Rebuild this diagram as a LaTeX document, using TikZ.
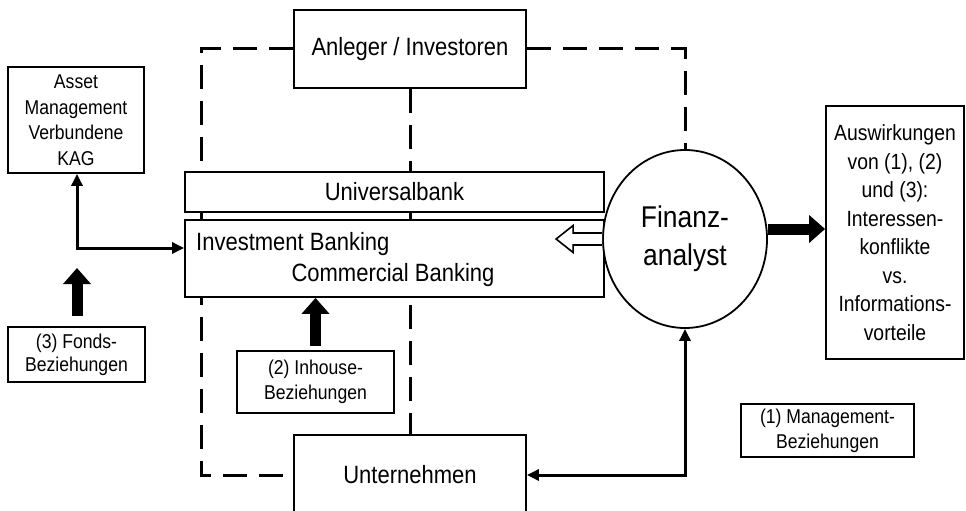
\documentclass[tikz,border=0pt]{standalone}
\usepackage{fontspec}
\setmainfont{Liberation Sans}[FakeStretch=0.88]
\usetikzlibrary{shapes.geometric,arrows.meta,backgrounds}
\tikzset{
  box/.style={draw,line width=1.8pt,fill=white,align=center,inner sep=0pt},
  gross/.style={font=\fontsize{25pt}{28pt}\selectfont},
  klein/.style={font=\fontsize{20pt}{25.5pt}\selectfont},
  strich/.style={line width=3pt,dash pattern=on 24pt off 12pt},
  pfeil/.style={line width=3pt,{Triangle[length=12pt,width=11pt]}-{Triangle[length=12pt,width=11pt]}},
  block/.style={line width=11pt,-{Triangle[length=16pt,width=27pt]}},
}

\begin{document}
\begin{tikzpicture}[x=1pt,y=-1pt]
\useasboundingbox (0,0) rectangle (966,511);
\node[box,gross,minimum width=232pt,minimum height=78pt] (anleger) at (410,49) {Anleger / Investoren};
\node[box,gross,minimum width=419pt,minimum height=40pt] (uni) at (394.5,192) {Universalbank};
\node[box,minimum width=419pt,minimum height=77pt] (bank) at (394.5,258.5) {};
\node[gross,anchor=west,inner sep=0pt] (ib) at (196,244) {Investment Banking};
\node[gross,inner sep=0pt] (cb) at (393,275) {Commercial Banking};
\node[box,ellipse,font=\fontsize{30pt}{38pt}\selectfont,minimum width=164pt,minimum height=178pt] (fa) at (685,239) {Finanz-\\analyst};
\node[box,font=\fontsize{22pt}{28.5pt}\selectfont,minimum width=138pt,minimum height=253pt] (wirk) at (895,232.5)
  {Auswirkungen\\von (1), (2)\\und (3):\\Interessen-\\konflikte\\vs.\\Informations-\\vorteile};
\node[box,gross,minimum width=232pt,minimum height=80pt] (unt) at (410,475) {Unternehmen};
\node[box,klein,minimum width=136pt,minimum height=106pt] (asset) at (76,120) {Asset\\Management\\Verbundene\\KAG};
\node[box,font=\fontsize{20pt}{23pt}\selectfont,minimum width=137pt,minimum height=55pt] (fonds) at (76.5,354.5) {(3) Fonds-\\Beziehungen};
\node[box,font=\fontsize{20pt}{25pt}\selectfont,minimum width=157pt,minimum height=62pt] (inhouse) at (315.5,382) {(2) Inhouse-\\Beziehungen};
\node[box,font=\fontsize{20pt}{25pt}\selectfont,minimum width=173pt,minimum height=53pt] (mgmt) at (827.5,430.5) {(1) Management-\\Beziehungen};
\coordinate (links) at (201,0);
\coordinate (knick) at (77,248);
\coordinate (fondsspitze) at (77,268);
\begin{scope}[on background layer]
\draw[strich] (anleger.west) -- (anleger.west -| links) -- (unt.west -| links) -- (unt.west);
\draw[strich] (anleger.east) -| (fa.north);
\draw[strich] (anleger.south) -- (unt.north);
\end{scope}
\draw[pfeil] (asset.south -| knick) -- (knick) -- (knick -| bank.west);
\draw[block,shorten <=10pt] (fonds.north -| knick) -- (fondsspitze);
\draw[block,shorten <=4pt] (inhouse.north) -- (inhouse.north |- bank.south);
\draw[block] ([yshift=10pt]fa.east) -- ([yshift=10pt]fa.east -| wirk.west);
\draw[pfeil] (unt.east) -| (fa.south);
\draw[line width=1.6pt,fill=white] ([yshift=6pt]fa.west) -- ++(-29,0) -- ++(0,-7.5) -- ++(-17,13.5)
  -- ++(17,13.5) -- ++(0,-7.5) -- ++(29,0);
\end{tikzpicture}
\end{document}
